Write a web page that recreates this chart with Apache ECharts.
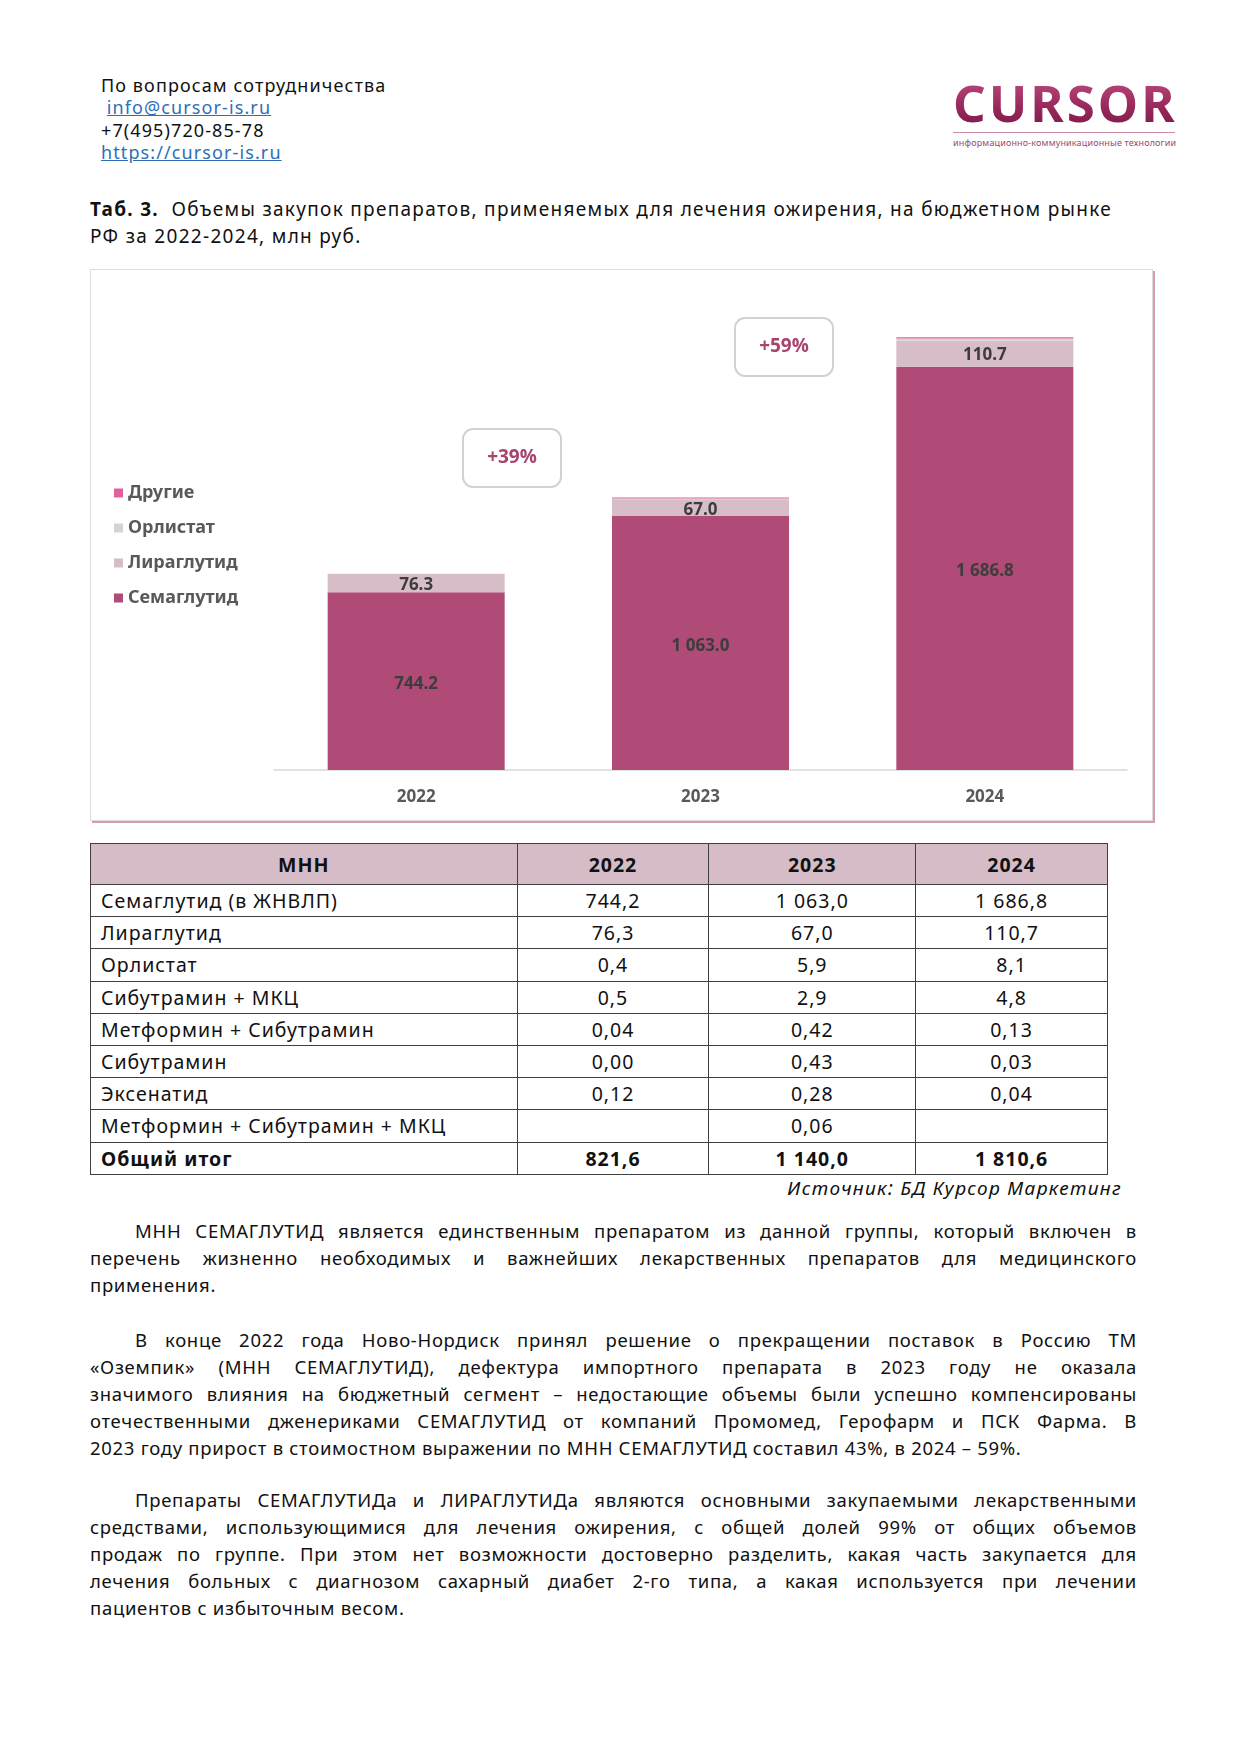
<!DOCTYPE html>
<html lang="ru">
<head>
<meta charset="utf-8">
<script src="https://cdn.jsdelivr.net/npm/echarts@6/dist/echarts.min.js"></script>
<style>
  html, body { margin:0; padding:0; background:#fff; }
  body { width:1241px; height:1755px; position:relative; font-family:"Noto Sans", "DejaVu Sans", sans-serif; color:#111; }
  .abs { position:absolute; }
  .contact { left:101px; top:74px; font-size:18px; line-height:22.3px; letter-spacing:1.1px; }
  .contact a { color:#2e6fb7; text-decoration:underline; }
  .logo { left:953px; top:74px; width:230px; }
  .logo .word { font-family:"Noto Sans", sans-serif; font-weight:700; font-size:51px; line-height:56px; letter-spacing:3px;
    background:linear-gradient(180deg,#c04f85 0%,#9b2a5d 55%,#7b1a47 100%); -webkit-background-clip:text; background-clip:text; color:transparent; }
  .logo .rule { height:1px; background:#c98aa8; margin-top:2px; width:222px; }
  .logo .sub { font-size:9px; color:#9a4a70; margin-top:3px; letter-spacing:0.15px; white-space:nowrap; }
  .caption { left:90px; top:196px; font-size:19px; line-height:27px; letter-spacing:1.3px; }
  #chart { left:90px; top:269px; width:1063px; height:552px; box-sizing:border-box; border:1px solid #dcdcdc; box-shadow:2px 2px 0 #d59ab5; }
  table.t { position:absolute; left:90px; top:843px; width:1018px; border-collapse:collapse; font-size:19.5px; letter-spacing:1px; }
  table.t td, table.t th { border:1.5px solid #404040; padding:0; }
  table.t th { background:#d5bcc7; height:40px; font-weight:700; text-align:center; }
  table.t td { height:31.2px; text-align:center; }
  table.t td.n { text-align:left; padding-left:10px; }
  table.t tr.tot td { font-weight:700; }
  .source { right:119px; top:1175px; font-size:19px; font-style:italic; line-height:26px; letter-spacing:1.3px; }
  .para { left:90px; width:1047px; font-size:18.5px; letter-spacing:0.7px; }
  .para div { height:27px; line-height:27px; text-align:justify; text-align-last:justify; }
  .para div.ind { text-indent:45px; }
  .para div.last { text-align:left; text-align-last:left; }
</style>
</head>
<body>
<div class="abs contact">
  По вопросам сотрудничества<br>
  &nbsp;<a>info@cursor-is.ru</a><br>
  +7(495)720-85-78<br>
  <a>https://cursor-is.ru</a>
</div>
<div class="abs logo">
  <div class="word">CURSOR</div>
  <div class="rule"></div>
  <div class="sub">информационно-коммуникационные технологии</div>
</div>
<div class="abs caption"><b>Таб. 3.</b>&nbsp; Объемы закупок препаратов, применяемых для лечения ожирения, на бюджетном рынке<br>РФ за 2022-2024, млн руб.</div>

<div id="chart" class="abs"></div>

<table class="t" id="tbl"></table>
<div class="abs source">Источник: БД Курсор Маркетинг</div>

<div class="abs para" style="top:1217px;">
  <div class="ind">МНН СЕМАГЛУТИД является единственным препаратом из данной группы, который включен в</div>
  <div>перечень жизненно необходимых и важнейших лекарственных препаратов для медицинского</div>
  <div class="last">применения.</div>
</div>
<div class="abs para" style="top:1326px;">
  <div class="ind">В конце 2022 года Ново-Нордиск принял решение о прекращении поставок в Россию ТМ</div>
  <div>«Оземпик» (МНН СЕМАГЛУТИД), дефектура импортного препарата в 2023 году не оказала</div>
  <div>значимого влияния на бюджетный сегмент – недостающие объемы были успешно компенсированы</div>
  <div>отечественными дженериками СЕМАГЛУТИД от компаний Промомед, Герофарм и ПСК Фарма. В</div>
  <div class="last">2023 году прирост в стоимостном выражении по МНН СЕМАГЛУТИД составил 43%, в 2024 – 59%.</div>
</div>
<div class="abs para" style="top:1486px;">
  <div class="ind">Препараты СЕМАГЛУТИДа и ЛИРАГЛУТИДа являются основными закупаемыми лекарственными</div>
  <div>средствами, использующимися для лечения ожирения, с общей долей 99% от общих объемов</div>
  <div>продаж по группе. При этом нет возможности достоверно разделить, какая часть закупается для</div>
  <div>лечения больных с диагнозом сахарный диабет 2-го типа, а какая используется при лечении</div>
  <div class="last">пациентов с избыточным весом.</div>
</div>

<script>
// ---- chart data ----
const years = ['2022', '2023', '2024'];
const semaglutide = [744.2, 1063.0, 1686.8];
const liraglutide = [76.3, 67.0, 110.7];
const orlistat = [0.4, 5.9, 8.1];
const others = [0.66, 4.09, 5.0];
const growthLabels = ['+39%', '+59%'];
const legendOrder = ['Другие', 'Орлистат', 'Лираглутид', 'Семаглутид'];

// ---- table data ----
const tableHeader = ['МНН', '2022', '2023', '2024'];
const tableNames = ['Семаглутид (в ЖНВЛП)', 'Лираглутид', 'Орлистат', 'Сибутрамин + МКЦ', 'Метформин + Сибутрамин', 'Сибутрамин', 'Эксенатид', 'Метформин + Сибутрамин + МКЦ'];
const table2022 = ['744,2', '76,3', '0,4', '0,5', '0,04', '0,00', '0,12', ''];
const table2023 = ['1 063,0', '67,0', '5,9', '2,9', '0,42', '0,43', '0,28', '0,06'];
const table2024 = ['1 686,8', '110,7', '8,1', '4,8', '0,13', '0,03', '0,04', ''];
const totalRow = ['Общий итог', '821,6', '1 140,0', '1 810,6'];

// build table
(function () {
  const tbl = document.getElementById('tbl');
  let html = '<colgroup><col style="width:427px"><col style="width:192px"><col style="width:207px"><col style="width:192px"></colgroup>';
  html += '<tr>' + tableHeader.map(h => '<th>' + h + '</th>').join('') + '</tr>';
  tableNames.forEach((n, i) => {
    html += '<tr><td class="n">' + n + '</td><td>' + table2022[i] + '</td><td>' + table2023[i] + '</td><td>' + table2024[i] + '</td></tr>';
  });
  html += '<tr class="tot"><td class="n">' + totalRow[0] + '</td><td>' + totalRow[1] + '</td><td>' + totalRow[2] + '</td><td>' + totalRow[3] + '</td></tr>';
  tbl.innerHTML = html;
})();

function fmt(v) {
  const s = v.toFixed(1);
  const parts = s.split('.');
  return parts[0].replace(/\B(?=(\d{3})+(?!\d))/g, ' ') + '.' + parts[1];
}

const labelFont = '"Open Sans", Lato, sans-serif';
const chart = echarts.init(document.getElementById('chart'), null, { renderer: 'canvas' });
function growthBox(text, left, top) {
  return {
    type: 'group', left: left, top: top,
    children: [
      { type: 'rect', shape: { x: 0, y: 0, width: 98, height: 58, r: 10 }, style: { fill: '#fff', stroke: '#d2d2d2', lineWidth: 2 } },
      { type: 'text', style: { text: text, x: 49, y: 29, align: 'center', verticalAlign: 'middle', font: 'bold 19px ' + labelFont, fill: '#a8446f' } }
    ]
  };
}
chart.setOption({
  animation: false,
  grid: { left: 183, right: 25, top: 22, bottom: 50 },
  legend: {
    orient: 'vertical', left: 18, top: 209, itemWidth: 9, itemHeight: 9, itemGap: 17,
    data: legendOrder,
    icon: 'rect',
    textStyle: { fontSize: 18, fontWeight: 'bold', color: '#595959', fontFamily: '"Noto Sans", sans-serif' }
  },
  xAxis: {
    type: 'category', data: years,
    axisLine: { lineStyle: { color: '#d9d9d9', width: 1.5 } },
    axisTick: { show: false },
    axisLabel: { fontSize: 17, fontWeight: 'bold', color: '#595959', margin: 19, fontFamily: labelFont }
  },
  yAxis: { type: 'value', min: 0, max: 2000, show: false, splitLine: { show: false } },
  series: [
    {
      name: 'Семаглутид', type: 'bar', stack: 'total', data: semaglutide, barWidth: 177,
      itemStyle: { color: '#b04b77' },
      label: { show: true, position: 'inside', offset: [0, 3], formatter: p => fmt(p.value), color: '#3d3d3d', fontSize: 17, fontWeight: 'bold', fontFamily: labelFont }
    },
    {
      name: 'Лираглутид', type: 'bar', stack: 'total', data: liraglutide, barWidth: 177,
      itemStyle: { color: '#d6bdc7' },
      label: { show: true, position: 'inside', offset: [0, 2], formatter: p => fmt(p.value), color: '#3d3d3d', fontSize: 17, fontWeight: 'bold', fontFamily: labelFont }
    },
    {
      name: 'Орлистат', type: 'bar', stack: 'total', data: orlistat, barWidth: 177,
      itemStyle: { color: '#d3d3d3' }
    },
    {
      name: 'Другие', type: 'bar', stack: 'total', data: others, barWidth: 177,
      itemStyle: { color: '#e3609c' }
    }
  ],
  graphic: [ growthBox(growthLabels[0], 371, 158), growthBox(growthLabels[1], 643, 47) ]
});
</script>
</body>
</html>
